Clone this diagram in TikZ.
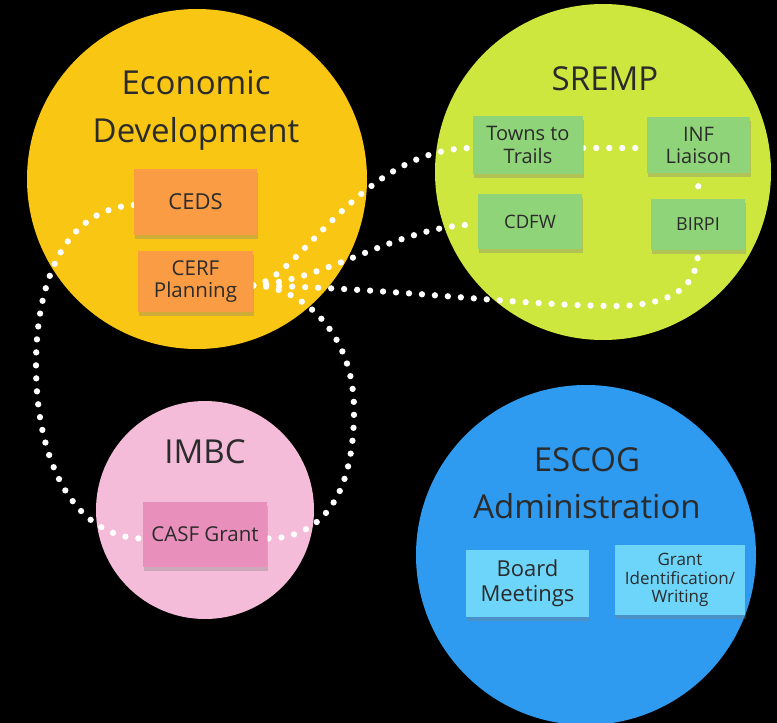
\documentclass[tikz,border=0pt]{standalone}
\usepackage{fontspec}
\setmainfont{Open Sans}
\usetikzlibrary{shadows}
\definecolor{edc}{HTML}{F9C614}
\definecolor{smc}{HTML}{CDE73F}
\definecolor{imc}{HTML}{F4BCD9}
\definecolor{esc}{HTML}{2E9BF0}
\definecolor{orn}{HTML}{FA9C44}
\definecolor{grn}{HTML}{8FD479}
\definecolor{pnk}{HTML}{E98FBB}
\definecolor{sky}{HTML}{6DD5FA}
\definecolor{ink}{HTML}{2B2B2B}
\pgfdeclarelayer{bg}
\pgfdeclarelayer{links}
\pgfsetlayers{bg,links,main}
\begin{document}
\begin{tikzpicture}[x=1pt,y=-1pt,
  group/.style={circle, inner sep=0pt, draw=none},
  title/.style={font=\fontsize{33}{47.5}\selectfont, text=ink, align=center, inner sep=0pt},
  note/.style={rectangle, inner sep=0pt, align=center, text=ink,
    drop shadow={shadow xshift=1pt,shadow yshift=-4pt,opacity=0.35}},
  link/.style={draw=white, line width=6.3pt, line cap=round, dash pattern=on 0pt off 13pt},
]
\useasboundingbox (0,0) rectangle (777,723);
\begin{pgfonlayer}{bg}
  \fill[black] (0,0) rectangle (777,723);
  \node[group, fill=edc, minimum size=340pt] (ed) at (197,179) {};
  \node[group, fill=smc, minimum size=336pt] (sremp) at (603,172) {};
  \node[group, fill=imc, minimum size=218pt] (imbc) at (205,510) {};
  \node[group, fill=esc, minimum size=340pt] (escog) at (586,555) {};
\end{pgfonlayer}

% titles
\node[title] (edt) at (196,110.5) {Economic\\Development};
\node[title] (srt) at (605,79) {SREMP};
\node[title] (imt) at (205,451.5) {IMBC};
\node[title] (est) at (587,483) {ESCOG\\Administration};

% sticky notes
\node[note, fill=orn, minimum width=123pt, minimum height=66pt, font=\fontsize{22}{26}\selectfont] (ceds) at (195.5,202) {CEDS};
\node[note, fill=orn, minimum width=115pt, minimum height=61pt, font=\fontsize{20.5}{22.5}\selectfont] (cerf) at (195.5,281.5) {CERF\\Planning};
\node[note, fill=grn, minimum width=110pt, minimum height=58pt, font=\fontsize{20}{22.5}\selectfont] (ttt) at (528,145) {Towns to\\Trails};
\node[note, fill=grn, minimum width=103pt, minimum height=56pt, font=\fontsize{20}{22}\selectfont] (inf) at (698.5,145) {INF\\Liaison};
\node[note, fill=grn, minimum width=104pt, minimum height=55pt, font=\fontsize{18.5}{22}\selectfont] (cdfw) at (530,221.5) {CDFW};
\node[note, fill=grn, minimum width=94pt, minimum height=51pt, font=\fontsize{18}{22}\selectfont] (birpi) at (698,224.5) {BIRPI};
\node[note, fill=pnk, minimum width=124pt, minimum height=65pt, font=\fontsize{20.5}{24}\selectfont] (casf) at (205,534.5) {CASF Grant};
\node[note, fill=sky, minimum width=123pt, minimum height=67pt, font=\fontsize{22}{25}\selectfont] (board) at (527.5,583.5) {Board\\Meetings};
\node[note, fill=sky, minimum width=130pt, minimum height=70pt, font=\fontsize{17}{18.5}\selectfont] (grant) at (680,580) {Grant\\Identification/\\Writing};

% connector helper points
\coordinate (hub) at ([yshift=-4pt]cerf.east);
\coordinate (bbend) at (620,306);
\coordinate (rbend) at (354,410);
\coordinate (lbend) at (36,365);

\begin{pgfonlayer}{links}
  \draw[link] (hub) .. controls +(45,-5) and +(-112,0) .. ([yshift=-3pt]ttt.west);
  \draw[link] (hub) .. controls +(75,-5) and +(-78,0) .. ([yshift=-3pt]cdfw.west);
  \draw[link] (hub) .. controls +(150,3) and +(-100,0) .. (bbend)
                    .. controls +(55,-2) and +(0,35) .. (birpi.south);
  \draw[link] (hub) .. controls +(45,0) and +(0,-80) .. (rbend)
                    .. controls +(0,92) and +(50,0) .. ([yshift=-4pt]casf.east);
  \draw[link] ([yshift=-3pt]ceds.west) .. controls +(-74,5) and +(0,-75) .. (lbend)
                    .. controls +(0,105) and +(-63,0) .. ([yshift=-4pt]casf.west);
  \draw[link] ([yshift=-3pt]ttt.east) -- ([yshift=-3pt]inf.west);
  \draw[link, shorten <=13pt, shorten >=12pt] (inf.south) -- (birpi.north);
\end{pgfonlayer}
\end{tikzpicture}
\end{document}
